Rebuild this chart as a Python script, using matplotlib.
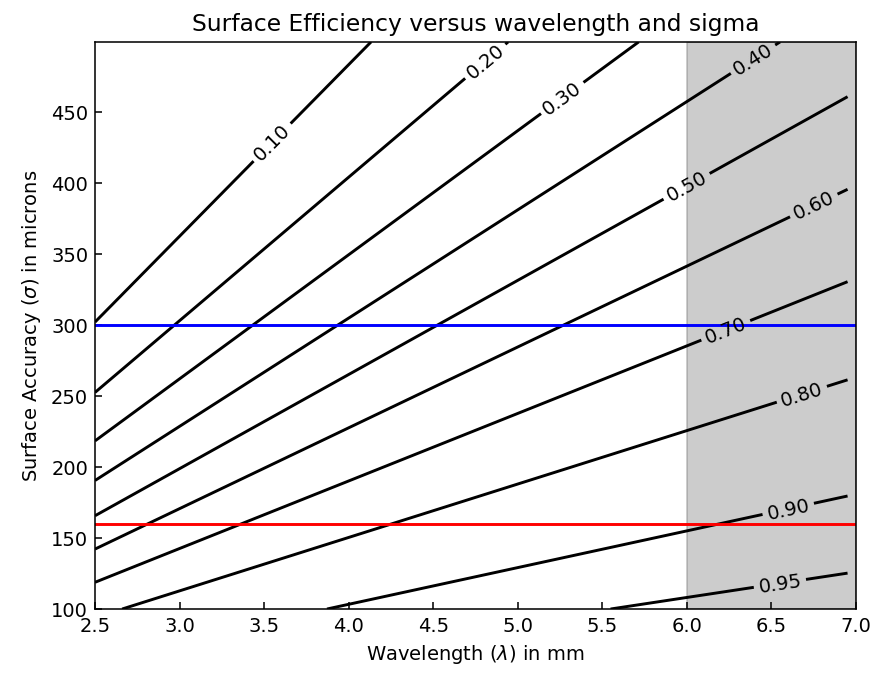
import numpy as np
import matplotlib
matplotlib.use("Agg")
from matplotlib import pyplot as plt

# wavelength grid in mm, surface rms in microns
wavelength = np.arange(2.5, 7.0, 0.05)
sigma = np.arange(100, 500, 1)
levels = [0.10, 0.20, 0.30, 0.40, 0.50, 0.60, 0.70, 0.80, 0.90, 0.95]
sigma_blue = 300
sigma_red = 160
band = (6.0, 7.0)

# where the contour labels sit (wavelength, sigma)
label_pos = [(3.55, 428), (4.81, 485), (5.26, 460), (6.39, 487), (6.0, 397),
             (6.75, 384), (6.23, 296), (6.68, 251), (6.6, 170), (6.55, 118)]

# Ruze formula
L, S = np.meshgrid(wavelength, sigma)
eff = np.exp(-(4 * np.pi * (S / 1000.0) / L) ** 2)

fig = plt.figure(figsize=(6.25, 4.82), dpi=140)
ax = fig.add_axes([0.1086, 0.0963, 0.8697, 0.8404])

cs = ax.contour(L, S, eff, levels=levels, colors='k', linewidths=1.5)
ax.clabel(cs, fmt='%.2f', inline=True, fontsize=10, manual=label_pos)

ax.axhline(sigma_blue, color='b', linewidth=1.5)
ax.axhline(sigma_red, color='r', linewidth=1.5)
ax.axvspan(band[0], band[1], color='gray', alpha=0.4)

ax.set_xlim(2.5, 7.0)
ax.set_ylim(sigma[0], sigma[-1])
ax.tick_params(direction='in')
ax.set_xlabel(r'Wavelength ($\lambda$) in mm')
ax.set_ylabel(r'Surface Accuracy ($\sigma$) in microns')
ax.set_title('Surface Efficiency versus wavelength and sigma')

fig.savefig('out.png', dpi=140)
